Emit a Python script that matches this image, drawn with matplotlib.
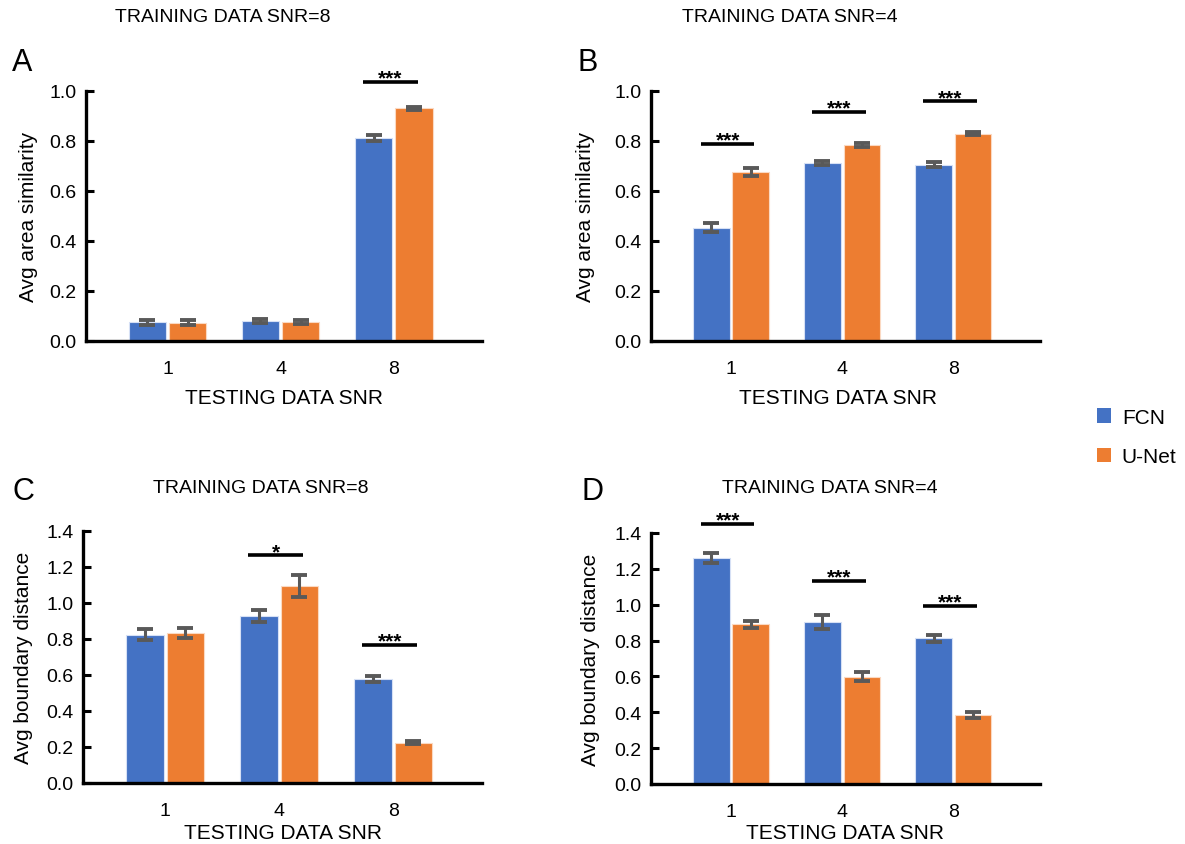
import matplotlib
matplotlib.use('Agg')
import matplotlib.pyplot as plt
from matplotlib.patches import Patch
import numpy as np

plt.rcParams['font.family'] = ['Liberation Sans', 'DejaVu Sans']

BLUE = '#4472C4'
ORANGE = '#ED7D31'
ERR = '#595959'

snr_labels = ['1', '4', '8']

# Panel A: area similarity, trained at SNR=8
a_fcn = [0.075, 0.080, 0.814]
a_fcn_err = [0.010, 0.008, 0.012]
a_unet = [0.073, 0.075, 0.931]
a_unet_err = [0.010, 0.008, 0.006]
a_sig = ['', '', '***']
a_sig_y = [None, None, 1.036]

# Panel B: area similarity, trained at SNR=4
b_fcn = [0.454, 0.714, 0.706]
b_fcn_err = [0.017, 0.008, 0.010]
b_unet = [0.676, 0.783, 0.830]
b_unet_err = [0.015, 0.008, 0.006]
b_sig = ['***', '***', '***']
b_sig_y = [0.788, 0.916, 0.959]

# Panel C: boundary distance, trained at SNR=8
c_fcn = [0.824, 0.928, 0.580]
c_fcn_err = [0.032, 0.033, 0.017]
c_unet = [0.833, 1.093, 0.224]
c_unet_err = [0.030, 0.060, 0.010]
c_sig = ['', '*', '***']
c_sig_y = [None, 1.265, 0.767]

# Panel D: boundary distance, trained at SNR=4
d_fcn = [1.260, 0.905, 0.813]
d_fcn_err = [0.028, 0.040, 0.020]
d_unet = [0.890, 0.597, 0.385]
d_unet_err = [0.020, 0.025, 0.015]
d_sig = ['***', '***', '***']
d_sig_y = [1.45, 1.134, 0.994]

W, H = 1185, 845
fig = plt.figure(figsize=(W / 100, H / 100), dpi=100)
fig.patch.set_facecolor('white')


def px_axes(l, r, top, bottom):
    return fig.add_axes([l / W, 1 - bottom / H, (r - l) / W, (bottom - top) / H])


def draw_panel(ax, fcn, fcn_err, unet, unet_err, sig, sig_y, ymax, ylabel):
    x = np.arange(len(snr_labels))
    bw = 0.33
    off = 0.178
    ax.bar(x - off, fcn, bw, color=BLUE, edgecolor='#D6E0F5', linewidth=0.8, zorder=2)
    ax.bar(x + off, unet, bw, color=ORANGE, edgecolor='#FBD9C2', linewidth=0.8, zorder=2)
    ax.errorbar(x - off, fcn, yerr=fcn_err, fmt='none', ecolor=ERR, elinewidth=2.2,
                capsize=6, capthick=2.8, zorder=3)
    ax.errorbar(x + off, unet, yerr=unet_err, fmt='none', ecolor=ERR, elinewidth=2.2,
                capsize=6, capthick=2.8, zorder=3)
    for xi, s, sy in zip(x, sig, sig_y):
        if not s:
            continue
        ax.plot([xi - 0.27, xi + 0.21], [sy, sy], color='black', lw=2.6,
                clip_on=False, solid_capstyle='butt', zorder=4)
        ax.annotate(s, xy=(xi - 0.03, sy), xytext=(0, -1.2), textcoords='offset points',
                    ha='center', va='baseline', fontsize=15, fontweight='bold',
                    color='black', annotation_clip=False, zorder=5)

    ax.set_xlim(-0.72, 2.78)
    ax.set_ylim(0, ymax)
    ax.set_yticks(np.arange(0, ymax + 0.001, 0.2))
    ax.set_yticklabels([f'{v:.1f}' for v in np.arange(0, ymax + 0.001, 0.2)])
    ax.set_xticks(x)
    ax.set_xticklabels(snr_labels)
    ax.tick_params(axis='x', length=0, pad=14, labelsize=14)
    ax.tick_params(axis='y', direction='in', length=6, width=2.2, pad=7, labelsize=14)
    for side in ['top', 'right']:
        ax.spines[side].set_visible(False)
    for side in ['left', 'bottom']:
        ax.spines[side].set_linewidth(2.4)
    ax.set_ylabel(ylabel, fontsize=15)
    ax.set_xlabel('TESTING DATA SNR', fontsize=15)


axA = px_axes(86, 482, 92, 342)
draw_panel(axA, a_fcn, a_fcn_err, a_unet, a_unet_err, a_sig, a_sig_y, 1.0, 'Avg area similarity')
axA.xaxis.set_label_coords(0.5, -0.188)
axA.yaxis.set_label_coords(-0.121, 0.5)

axB = px_axes(651, 1040, 92, 342)
draw_panel(axB, b_fcn, b_fcn_err, b_unet, b_unet_err, b_sig, b_sig_y, 1.0, 'Avg area similarity')
axB.xaxis.set_label_coords(0.48, -0.188)
axB.yaxis.set_label_coords(-0.144, 0.5)

axC = px_axes(83, 482, 532, 784)
draw_panel(axC, c_fcn, c_fcn_err, c_unet, c_unet_err, c_sig, c_sig_y, 1.4, 'Avg boundary distance')
axC.xaxis.set_label_coords(0.5, -0.159)
axC.yaxis.set_label_coords(-0.125, 0.5)

axD = px_axes(651, 1040, 534, 785)
draw_panel(axD, d_fcn, d_fcn_err, d_unet, d_unet_err, d_sig, d_sig_y, 1.4, 'Avg boundary distance')
axD.xaxis.set_label_coords(0.5, -0.155)
axD.yaxis.set_label_coords(-0.131, 0.5)

# Titles and panel letters
fig.text(223 / W, 1 - 18 / H, 'TRAINING DATA SNR=8', ha='center', va='center', fontsize=14)
fig.text(790 / W, 1 - 18 / H, 'TRAINING DATA SNR=4', ha='center', va='center', fontsize=14)
fig.text(261 / W, 1 - 489 / H, 'TRAINING DATA SNR=8', ha='center', va='center', fontsize=14)
fig.text(830 / W, 1 - 489 / H, 'TRAINING DATA SNR=4', ha='center', va='center', fontsize=14)

fig.text(12 / W, 1 - 63 / H, 'A', ha='left', va='center', fontsize=22)
fig.text(578 / W, 1 - 63 / H, 'B', ha='left', va='center', fontsize=22)
fig.text(13 / W, 1 - 492 / H, 'C', ha='left', va='center', fontsize=22)
fig.text(581 / W, 1 - 492 / H, 'D', ha='left', va='center', fontsize=22)

# Legend
handles = [Patch(facecolor=BLUE, edgecolor='none'), Patch(facecolor=ORANGE, edgecolor='none')]
fig.legend(handles, ['FCN', 'U-Net'], loc='center left',
           bbox_to_anchor=(1078 / W, 1 - 438 / H), frameon=False, fontsize=15,
           handlelength=0.7, handleheight=0.7, handletextpad=0.5, labelspacing=1.0)

fig.savefig('out.png', dpi=100, facecolor='white')
